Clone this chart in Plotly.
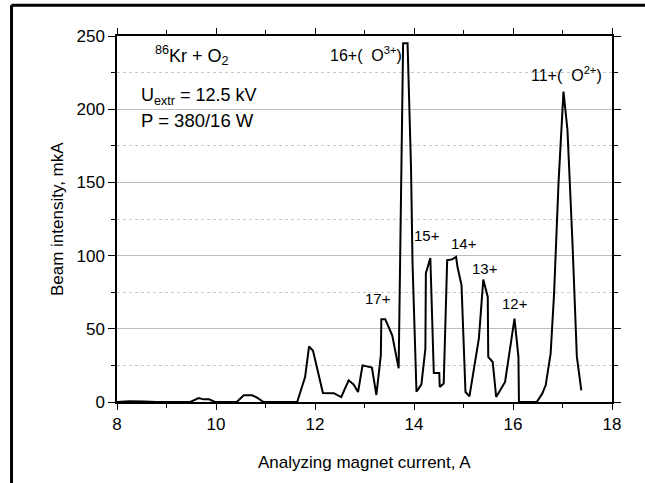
import plotly.graph_objects as go

# Analyzing magnet current, A
current = [8.0, 8.25, 8.55, 8.8, 9.48, 9.65, 9.75, 9.86, 9.98, 10.42, 10.56, 10.73, 10.83,
           10.96, 11.64, 11.80, 11.88, 11.96, 12.16, 12.38, 12.53, 12.68, 12.78, 12.87,
           12.96, 13.15, 13.24, 13.33, 13.34, 13.42, 13.56, 13.69, 13.78, 13.87, 13.94,
           13.97, 14.05, 14.15, 14.23, 14.24, 14.33, 14.40, 14.51, 14.52, 14.60, 14.67,
           14.77, 14.85, 14.88, 14.96, 15.04, 15.12, 15.31, 15.40, 15.49, 15.50, 15.59,
           15.66, 15.84, 16.03, 16.11, 16.12, 16.48, 16.59, 16.66, 16.76, 16.83, 16.92,
           17.02, 17.10, 17.20, 17.29, 17.38]
# Beam intensity, mkA
intensity = [0, 0.5, 0.3, 0, 0, 2.7, 1.8, 1.8, 0, 0, 4.6, 4.6, 3,
             0, 0, 17, 38, 35, 6.2, 6, 3.4, 14.8, 12, 6.8,
             25, 23.5, 4.8, 32, 56.5, 56.5, 45.6, 23, 245, 245, 160,
             95, 7, 12, 36.5, 88, 98.4, 19.8, 19.8, 10.3, 12.6, 96.9,
             97.4, 99.1, 92, 79.8, 6.8, 3.9, 43.3, 83.6, 71.8, 30.8, 27.3,
             3.4, 13.7, 57, 30.8, 0, 0, 5.7, 11.4, 33, 74, 150,
             212, 186, 110, 31, 8]

peak_labels = ["17+", "15+", "14+", "13+", "12+"]
peak_x = [13.28, 14.27, 15.0, 15.44, 16.05]
peak_y = [70.5, 113.6, 108.5, 91.4, 67.1]

FONT = "Liberation Sans, Arial, sans-serif"

fig = go.Figure()
fig.add_trace(go.Scatter(x=current, y=intensity, mode="lines",
                         line=dict(color="black", width=2), showlegend=False,
                         hoverinfo="skip"))

annotations = []
for t, xx, yy in zip(peak_labels, peak_x, peak_y):
    annotations.append(dict(x=xx, y=yy, xref="x", yref="y", text=t, showarrow=False,
                            font=dict(size=15, color="black", family=FONT)))

annotations += [
    dict(x=13.8, y=238, xref="x", yref="y", xanchor="right", yanchor="middle",
         text="16+(&nbsp;&nbsp;O<sup>3+</sup>)", showarrow=False,
         font=dict(size=16, color="black", family=FONT)),
    dict(x=17.84, y=224, xref="x", yref="y", xanchor="right", yanchor="middle",
         text="11+(&nbsp;&nbsp;O<sup>2+</sup>)", showarrow=False,
         font=dict(size=16, color="black", family=FONT)),
    dict(x=8.72, y=237, xref="x", yref="y", xanchor="left", yanchor="middle",
         text="<sup>86</sup>Kr + O<sub>2</sub>", showarrow=False,
         font=dict(size=18, color="black", family=FONT)),
    dict(x=8.45, y=209, xref="x", yref="y", xanchor="left", yanchor="middle",
         text="U<sub>extr</sub> = 12.5 kV", showarrow=False,
         font=dict(size=18, color="black", family=FONT)),
    dict(x=8.45, y=192, xref="x", yref="y", xanchor="left", yanchor="middle",
         text="P = 380/16 W", showarrow=False,
         font=dict(size=18.5, color="black", family=FONT)),
    dict(x=0.5, y=-0.164, xref="paper", yref="paper", xanchor="center", yanchor="middle",
         text="Analyzing magnet current, A", showarrow=False,
         font=dict(size=17, color="black", family=FONT)),
    dict(x=-0.121, y=0.5, xref="paper", yref="paper", xanchor="center", yanchor="middle",
         text="Beam intensity, mkA", showarrow=False, textangle=-90,
         font=dict(size=17, color="black", family=FONT)),
]

shapes = [
    dict(type="line", xref="paper", yref="paper", x0=-0.2131, x1=-0.2131, y0=1.084, y1=-0.25,
         line=dict(color="black", width=3)),
    dict(type="line", xref="paper", yref="paper", x0=-0.2131, x1=1.08, y0=1.084, y1=1.084,
         line=dict(color="black", width=3)),
]

fig.update_layout(
    width=645, height=483,
    margin=dict(l=117, r=33, t=36, b=81),
    paper_bgcolor="white", plot_bgcolor="white",
    font=dict(family=FONT, color="black", size=17),
    annotations=annotations, shapes=shapes,
    xaxis=dict(range=[8, 18], tickvals=[8, 10, 12, 14, 16, 18], ticks="outside",
               ticklen=6, tickwidth=1.2, tickcolor="black", showgrid=False, zeroline=False,
               showline=True, linecolor="black", linewidth=1.5, mirror="allticks",
               tickfont=dict(size=17, family=FONT, color="black"),
               minor=dict(dtick=1, ticks="outside", ticklen=4, tickcolor="black",
                          showgrid=False)),
    yaxis=dict(range=[0, 250], dtick=50, ticks="outside", ticklen=7, tickwidth=1.2,
               tickcolor="black", showgrid=True, gridcolor="#bdbdbd", gridwidth=1,
               zeroline=False, showline=True, linecolor="black", linewidth=1.5,
               mirror="allticks", tickfont=dict(size=17, family=FONT, color="black"),
               minor=dict(dtick=25, ticks="outside", ticklen=4, tickcolor="black",
                          showgrid=True, gridcolor="#c8c8c8", griddash="dot", gridwidth=1)),
)

fig.write_html("out.html", config={"displayModeBar": False},
               post_script="document.body.style.margin='0';document.body.style.overflow='hidden';")
